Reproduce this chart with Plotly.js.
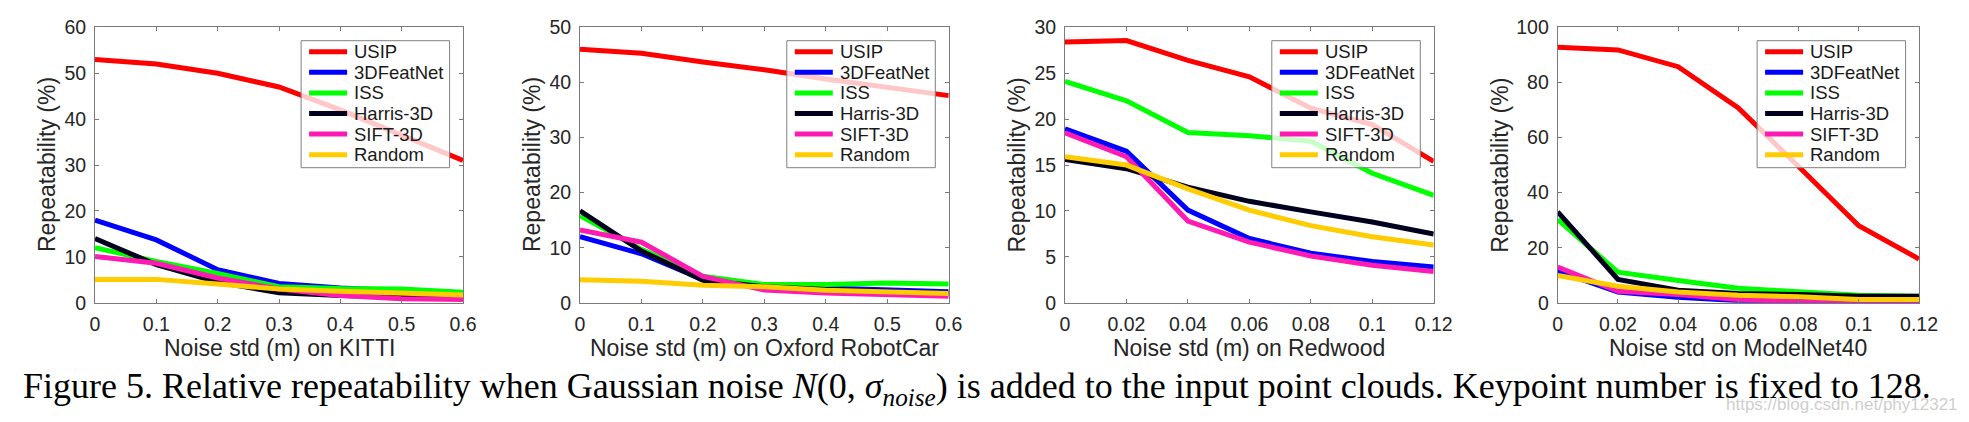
<!DOCTYPE html>
<html>
<head>
<meta charset="utf-8">
<script src="https://cdn.plot.ly/plotly-3.0.1.min.js"></script>
<style>
html,body{margin:0;padding:0;background:#fff;}
#chart{width:1969px;height:422px;}
</style>
</head>
<body>
<div id="chart"></div>
<script>
// ---------------- DATA ----------------
const seriesNames = ["USIP", "3DFeatNet", "ISS", "Harris-3D", "SIFT-3D", "Random"];
const seriesColors = ["#ff0000", "#0000ff", "#00ff00", "#00001e", "#ff1ab3", "#ffcc00"];

const xMeters = [0, 0.1, 0.2, 0.3, 0.4, 0.5, 0.6];
const xSmall = [0, 0.02, 0.04, 0.06, 0.08, 0.1, 0.12];

// KITTI
const kittiUSIP    = [53, 52, 50, 47, 42, 36.5, 31];
const kittiFeatNet = [18, 13.7, 7.2, 4.2, 3.2, 2.6, 2.0];
const kittiISS     = [12, 9, 6.4, 3.5, 3.1, 3.0, 2.3];
const kittiHarris  = [14, 8.3, 4.5, 2.2, 1.6, 1.2, 1.0];
const kittiSIFT    = [10.1, 8.6, 5.4, 3.0, 1.6, 0.9, 0.7];
const kittiRandom  = [5.1, 5.1, 4.1, 3.0, 2.5, 2.0, 1.7];

// Oxford RobotCar
const oxfordUSIP    = [46, 45.3, 43.7, 42.3, 40.6, 39.1, 37.6];
const oxfordFeatNet = [12, 8.9, 4.2, 3.1, 2.7, 2.4, 2.0];
const oxfordISS     = [15.8, 9.7, 4.8, 3.3, 3.3, 3.6, 3.4];
const oxfordHarris  = [16.7, 9.4, 4.1, 2.9, 2.4, 2.0, 1.7];
const oxfordSIFT    = [13.2, 11, 4.8, 2.3, 1.8, 1.5, 1.2];
const oxfordRandom  = [4.2, 3.9, 3.2, 2.9, 2.3, 1.9, 1.7];

// Redwood
const redwoodUSIP    = [28.4, 28.55, 26.4, 24.6, 21.2, 19.4, 15.4];
const redwoodFeatNet = [18.95, 16.5, 10.1, 7.0, 5.4, 4.5, 3.9];
const redwoodISS     = [24.1, 22.0, 18.55, 18.2, 17.6, 14.1, 11.7];
const redwoodHarris  = [15.6, 14.6, 12.6, 11.05, 9.9, 8.8, 7.5];
const redwoodSIFT    = [18.5, 15.9, 8.9, 6.6, 5.1, 4.1, 3.4];
const redwoodRandom  = [15.9, 15.0, 12.4, 10.1, 8.4, 7.2, 6.3];

// ModelNet40
const modelnetUSIP    = [92.8, 91.8, 85.7, 70.7, 49.5, 28, 15.9];
const modelnetFeatNet = [11.5, 3.9, 2.0, 0.8, 0.5, 0.3, 0.3];
const modelnetISS     = [30.2, 11.1, 8.1, 5.3, 4.0, 2.7, 2.4];
const modelnetHarris  = [33, 8.5, 4.6, 3.4, 3.0, 2.4, 2.4];
const modelnetSIFT    = [13, 4.2, 3.0, 1.2, 0.4, 0.3, 0.3];
const modelnetRandom  = [9.9, 6.0, 3.9, 2.7, 2.2, 1.2, 1.2];

const xAxisTitles = ["Noise std (m) on KITTI", "Noise std (m) on Oxford RobotCar", "Noise std (m) on Redwood", "Noise std on ModelNet40"];
const yAxisTitle = "Repeatability (%)";
const captionText = "Figure 5. Relative repeatability when Gaussian noise <i>N</i>(0, <i>σ<sub>noise</sub></i>) is added to the input point clouds. Keypoint number is fixed to 128.";
const watermarkText = "https://blog.csdn.net/phy12321";

// ---------------- LAYOUT ----------------
const W = 1969, H = 422;
const px = v => v / W;
const py = v => 1 - v / H;

const panels = [
  {x: xMeters, ys: [kittiUSIP, kittiFeatNet, kittiISS, kittiHarris, kittiSIFT, kittiRandom], yr: [0, 60], yd: 10, xr: [0, 0.6], xd: 0.1, L: 95, R: 463, ylOff: 48},
  {x: xMeters, ys: [oxfordUSIP, oxfordFeatNet, oxfordISS, oxfordHarris, oxfordSIFT, oxfordRandom], yr: [0, 50], yd: 10, xr: [0, 0.6], xd: 0.1, L: 580, R: 948.7, ylOff: 48},
  {x: xSmall, ys: [redwoodUSIP, redwoodFeatNet, redwoodISS, redwoodHarris, redwoodSIFT, redwoodRandom], yr: [0, 30], yd: 5, xr: [0, 0.12], xd: 0.02, L: 1065, R: 1433.7, ylOff: 47.5},
  {x: xSmall, ys: [modelnetUSIP, modelnetFeatNet, modelnetISS, modelnetHarris, modelnetSIFT, modelnetRandom], yr: [0, 100], yd: 20, xr: [0, 0.12], xd: 0.02, L: 1557.7, R: 1919, ylOff: 58}
];
const TOP = 27.3, BOT = 302.8;

const axisFont = {family: "Liberation Sans, Arial, sans-serif", size: 19.5, color: "#262626"};
const frameColor = "#7a7a7a";

const traces = [];
const layout = {
  width: W, height: H,
  margin: {l: 0, r: 0, t: 0, b: 0},
  paper_bgcolor: "#ffffff",
  plot_bgcolor: "#ffffff",
  showlegend: false,
  shapes: [],
  annotations: []
};

panels.forEach((p, k) => {
  const sfx = k === 0 ? "" : String(k + 1);
  const xa = "x" + sfx, ya = "y" + sfx;
  p.ys.forEach((vals, i) => {
    traces.push({
      type: "scatter", mode: "lines",
      x: p.x, y: vals,
      name: seriesNames[i],
      xaxis: xa, yaxis: ya,
      line: {color: seriesColors[i], width: 5, shape: "linear"},
      hoverinfo: "skip"
    });
  });
  layout["xaxis" + sfx] = {
    domain: [px(p.L), px(p.R)], anchor: ya,
    range: p.xr, dtick: p.xd, tick0: 0,
    showgrid: false, zeroline: false,
    showline: true, linecolor: frameColor, linewidth: 1, mirror: "ticks",
    ticks: "inside", ticklen: 4, tickcolor: frameColor, tickwidth: 1,
    tickfont: axisFont, ticklabelstandoff: 4
  };
  layout["yaxis" + sfx] = {
    domain: [py(BOT), py(TOP)], anchor: xa,
    range: p.yr, dtick: p.yd, tick0: 0,
    showgrid: false, zeroline: false,
    showline: true, linecolor: frameColor, linewidth: 1, mirror: "ticks",
    ticks: "inside", ticklen: 4, tickcolor: frameColor, tickwidth: 1,
    tickfont: axisFont, ticklabelstandoff: 4
  };
  // axis titles
  layout.annotations.push({
    xref: "paper", yref: "paper", x: px((p.L + p.R) / 2), y: py(348),
    xanchor: "center", yanchor: "middle", showarrow: false,
    text: xAxisTitles[k],
    font: {family: "Liberation Sans, Arial, sans-serif", size: 23, color: "#262626"}
  });
  layout.annotations.push({
    xref: "paper", yref: "paper", x: px(p.L - p.ylOff), y: py((TOP + BOT) / 2),
    xanchor: "center", yanchor: "middle", showarrow: false, textangle: -90,
    text: yAxisTitle,
    font: {family: "Liberation Sans, Arial, sans-serif", size: 23, color: "#262626"}
  });
  // legend box
  const bx0 = p.R - 13.4 - 148.5, bx1 = p.R - 13.4;
  const by0 = TOP + 13.4, by1 = TOP + 13.4 + 127;
  layout.shapes.push({
    type: "rect", xref: "paper", yref: "paper", layer: "above",
    x0: px(bx0), x1: px(bx1), y0: py(by1), y1: py(by0),
    fillcolor: "rgba(255,255,255,0.78)", line: {color: "#7f7f7f", width: 1}
  });
  seriesNames.forEach((nm, i) => {
    const yy = by0 + 11 + i * 20.6;
    layout.shapes.push({
      type: "line", xref: "paper", yref: "paper", layer: "above",
      x0: px(bx0 + 8), x1: px(bx0 + 46), y0: py(yy), y1: py(yy),
      line: {color: seriesColors[i], width: 5}
    });
    layout.annotations.push({
      xref: "paper", yref: "paper", x: px(bx0 + 51), y: py(yy),
      xanchor: "left", yanchor: "middle", showarrow: false,
      text: nm,
      font: {family: "Liberation Sans, Arial, sans-serif", size: 18.5, color: "#1a1a1a"}
    });
  });
});

// caption
layout.annotations.push({
  xref: "paper", yref: "paper", x: px(977), y: py(388),
  xanchor: "center", yanchor: "middle", showarrow: false,
  text: captionText,
  font: {family: "Liberation Serif, Times New Roman, serif", size: 36, color: "#000000"}
});
// watermark
layout.annotations.push({
  xref: "paper", yref: "paper", x: px(1960), y: py(404),
  xanchor: "right", yanchor: "middle", showarrow: false,
  text: watermarkText,
  font: {family: "Liberation Sans, Arial, sans-serif", size: 17, color: "rgba(200,200,200,0.9)"}
});

Plotly.newPlot("chart", traces, layout, {staticPlot: true, displayModeBar: false});
</script>
</body>
</html>
